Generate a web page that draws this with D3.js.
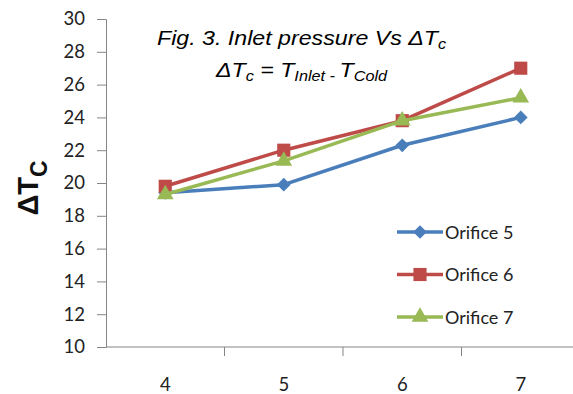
<!DOCTYPE html>
<html>
<head>
<meta charset="utf-8">
<script src="https://cdn.jsdelivr.net/npm/d3@7"></script>
<style>
  body { margin: 0; background: #fff; }
  svg { display: block; }
</style>
</head>
<body>
<svg width="573" height="394"></svg>
<script>
var categories = ["4", "5", "6", "7"];
var yTicks = [10, 12, 14, 16, 18, 20, 22, 24, 26, 28, 30];
var seriesNames = ["Orifice 5", "Orifice 6", "Orifice 7"];
var orifice5 = [19.4, 19.9, 22.3, 24.0];
var orifice6 = [19.8, 22.0, 23.8, 27.0];
var orifice7 = [19.3, 21.35, 23.8, 25.2];

var colors = ["#4a7ebb", "#be4b48", "#98b954"];
var symbols = [d3.symbolDiamond2, d3.symbolSquare2, d3.symbolTriangle2];
var symSizes = [120, 220, 200];
var allSeries = [orifice5, orifice6, orifice7];
var tickFont = "Lato, 'Open Sans', sans-serif";

var svg = d3.select("svg");

var x = d3.scaleBand().domain(categories).range([106, 580]);
var y = d3.scaleLinear().domain([10, 30]).range([347, 19]);

// y axis
var yAxis = svg.append("g")
  .attr("transform", "translate(106,0)")
  .call(d3.axisLeft(y).tickValues(yTicks).tickSize(9).tickPadding(12));
yAxis.select(".domain").attr("stroke", "#868686");
yAxis.selectAll(".tick line").attr("stroke", "#868686");
yAxis.selectAll(".tick text")
  .attr("font-family", tickFont)
  .attr("font-size", 18.5).attr("fill", "#222");

// x axis: ticks between categories
var xAxis = svg.append("g")
  .attr("transform", "translate(0,347)");
xAxis.append("line")
  .attr("x1", 106).attr("x2", 580)
  .attr("stroke", "#868686");
xAxis.selectAll(".xt")
  .data(categories.slice(1))
  .join("line")
  .attr("x1", d => x(d)).attr("x2", d => x(d))
  .attr("y1", 0).attr("y2", 9)
  .attr("stroke", "#868686");
xAxis.selectAll("text")
  .data(categories)
  .join("text")
  .attr("x", d => x(d) + x.bandwidth() / 2)
  .attr("y", 44)
  .attr("text-anchor", "middle")
  .attr("font-family", tickFont)
  .attr("font-size", 18.5).attr("fill", "#222")
  .text(d => d);

// lines and markers
var line = d3.line()
  .x((d, i) => x(categories[i]) + x.bandwidth() / 2)
  .y(d => y(d));

allSeries.forEach(function(vals, s) {
  svg.append("path")
    .datum(vals)
    .attr("d", line)
    .attr("fill", "none")
    .attr("stroke", colors[s])
    .attr("stroke-width", 3.5)
    .attr("stroke-linejoin", "round");
  svg.selectAll(".m" + s)
    .data(vals)
    .join("path")
    .attr("transform", (d, i) => "translate(" + (x(categories[i]) + x.bandwidth() / 2) + "," + y(d) + ")")
    .attr("d", d3.symbol().type(symbols[s]).size(symSizes[s]))
    .attr("fill", colors[s]);
});

// legend
var legend = svg.append("g");
seriesNames.forEach(function(name, s) {
  var ly = 232 + s * 42.5;
  legend.append("line")
    .attr("x1", 397).attr("x2", 443)
    .attr("y1", ly).attr("y2", ly)
    .attr("stroke", colors[s]).attr("stroke-width", 3.5);
  legend.append("path")
    .attr("transform", "translate(420," + ly + ")")
    .attr("d", d3.symbol().type(symbols[s]).size(symSizes[s]))
    .attr("fill", colors[s]);
  legend.append("text")
    .attr("x", 445).attr("y", ly + 6.5)
    .attr("font-family", tickFont)
    .attr("font-size", 18).attr("fill", "#222")
    .text(name);
});

// title (horizontally stretched like the source)
var title = svg.append("g")
  .attr("transform", "translate(301.5,0) scale(1.16,1)")
  .attr("font-family", "'Liberation Sans', Arial, sans-serif")
  .attr("font-style", "italic")
  .attr("font-size", 20)
  .attr("text-anchor", "middle")
  .attr("fill", "#000");
var t1 = title.append("text").attr("x", 0).attr("y", 45);
t1.append("tspan").text("Fig. 3. Inlet pressure Vs \u0394T");
t1.append("tspan").attr("font-size", 14).attr("dy", 4).text("c");
var t2 = title.append("text").attr("x", 0).attr("y", 77);
t2.append("tspan").text("\u0394T");
t2.append("tspan").attr("font-size", 14).attr("dy", 4).text("c");
t2.append("tspan").attr("dy", -4).text(" = T");
t2.append("tspan").attr("font-size", 14).attr("dy", 4).text("Inlet");
t2.append("tspan").attr("font-size", 14).text(" - ");
t2.append("tspan").attr("dy", -4).text("T");
t2.append("tspan").attr("font-size", 14).attr("dy", 4).text("Cold");

// y label
var yl = svg.append("text")
  .attr("transform", "translate(38,188) rotate(-90)")
  .attr("text-anchor", "middle")
  .attr("font-family", "'Liberation Sans', Arial, sans-serif")
  .attr("font-weight", "bold")
  .attr("font-size", 29)
  .attr("fill", "#111");
yl.append("tspan").text("\u0394T");
yl.append("tspan").attr("font-size", 23).attr("dy", 9).text("C");
</script>
</body>
</html>
